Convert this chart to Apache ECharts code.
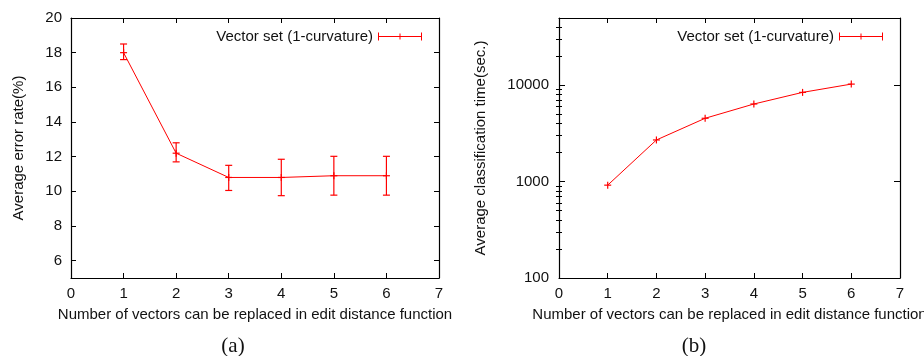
<!DOCTYPE html>
<html>
<head>
<meta charset="utf-8">
<script src="https://cdn.jsdelivr.net/npm/echarts@6/dist/echarts.min.js"></script>
<style>
  html, body {margin: 0; padding: 0; background: #fff;}
  #main {width: 924px; height: 356px;}
</style>
</head>
<body>
<div id="main"></div>
<script>
// chart data
const vectorCounts = [1, 2, 3, 4, 5, 6];
const errorRate = [18.0, 12.2, 10.8, 10.8, 10.9, 10.9];
const errorLow = [17.6, 11.7, 10.05, 9.75, 9.78, 9.78];
const errorHigh = [18.5, 12.8, 11.5, 11.85, 12.02, 12.02];
const classTime = [920, 2710, 4550, 6400, 8450, 10300];

const errorTicks = [6, 8, 10, 12, 14, 16, 18, 20];
const timeTicks = [100, 1000, 10000];
const timeMinorTicks = [200, 300, 400, 500, 600, 700, 800, 900,
  2000, 3000, 4000, 5000, 6000, 7000, 8000, 9000, 20000, 30000, 40000];

const seriesName = 'Vector set (1-curvature)';
const xName = 'Number of vectors can be replaced in edit distance function';
const RED = '#ff0000';
const FONT = '"Liberation Sans", Arial, sans-serif';
const FS = 15;

const chart = echarts.init(document.getElementById('main'));

const legendIcon = 'path://M0,0h1v8h-1z M43,0h1v8h-1z M21.5,1h1v6h-1z M0,3.5h44v1h-44z';

function crossAndBars(params, api) {
  const x = api.value(0);
  const c = api.coord([x, api.value(1)]);
  const s = 3.5;
  const st = {stroke: RED, lineWidth: 1.2};
  const kids = [
    {type: 'line', shape: {x1: c[0] - s, y1: c[1], x2: c[0] + s, y2: c[1]}, style: st},
    {type: 'line', shape: {x1: c[0], y1: c[1] - s, x2: c[0], y2: c[1] + s}, style: st}
  ];
  const lowV = api.value(2), highV = api.value(3);
  if (!isNaN(lowV) && !isNaN(highV)) {
    const lo = api.coord([x, lowV]);
    const hi = api.coord([x, highV]);
    kids.push(
      {type: 'line', shape: {x1: lo[0], y1: lo[1], x2: hi[0], y2: hi[1]}, style: st},
      {type: 'line', shape: {x1: lo[0] - s, y1: lo[1], x2: lo[0] + s, y2: lo[1]}, style: st},
      {type: 'line', shape: {x1: hi[0] - s, y1: hi[1], x2: hi[0] + s, y2: hi[1]}, style: st}
    );
  }
  return {type: 'group', children: kids};
}

const errData = vectorCounts.map((x, i) => [x, errorRate[i], errorLow[i], errorHigh[i]]);
const timeData = vectorCounts.map((x, i) => [x, classTime[i], NaN, NaN]);

const textStyle = {fontFamily: FONT, fontSize: FS, color: '#111'};
const axisLine = {show: true, onZero: false, lineStyle: {color: '#000', width: 1.2}};

function xAxes(gridIndex) {
  const base = {
    type: 'value', gridIndex, min: 0, max: 7, interval: 1,
    axisLine: axisLine,
    axisTick: {show: true, inside: true, length: 5, lineStyle: {color: '#000'}},
    splitLine: {show: false}
  };
  return [
    Object.assign({}, base, {
      position: 'bottom',
      name: xName, nameLocation: 'middle', nameGap: 29,
      nameTextStyle: textStyle,
      axisLabel: Object.assign({margin: 8}, textStyle)
    }),
    Object.assign({}, base, {position: 'top', axisLabel: {show: false}})
  ];
}

function logAxis(position, ticks, len, withLine) {
  return {
    type: 'log', logBase: 10, gridIndex: 1, position, min: 100, max: 50000,
    axisLine: withLine ? axisLine : {show: false},
    axisTick: {show: true, inside: true, length: len, customValues: ticks, lineStyle: {color: '#000'}},
    axisLabel: {show: false},
    splitLine: {show: false}
  };
}

const titleStyle = {fontFamily: '"Liberation Serif", serif', fontSize: 21, fontWeight: 'normal', color: '#111'};

const option = {
  animation: false,
  backgroundColor: '#fff',
  grid: [
    {left: 71, right: 485, top: 18, bottom: 78, outerBoundsMode: 'none'},
    {left: 559, right: 24, top: 18, bottom: 78, outerBoundsMode: 'none'}
  ],
  title: [
    {text: '(a)', left: 228, top: 331, textAlign: 'center', textStyle: titleStyle},
    {text: '(b)', left: 689, top: 331, textAlign: 'center', textStyle: titleStyle}
  ],
  legend: [
    {data: [{name: seriesName, icon: legendIcon}], right: 497, top: 24, align: 'right',
      itemWidth: 44, itemHeight: 8, itemGap: 10, textStyle: textStyle},
    {data: [{name: seriesName, icon: legendIcon}], right: 36, top: 24, align: 'right',
      itemWidth: 44, itemHeight: 8, itemGap: 10, textStyle: textStyle}
  ],
  xAxis: xAxes(0).concat(xAxes(1)),
  yAxis: [
    {
      type: 'value', gridIndex: 0, position: 'left', min: 5, max: 20,
      name: 'Average error rate(%)', nameLocation: 'middle', nameGap: 45,
      nameTextStyle: textStyle,
      axisLine: axisLine,
      axisTick: {show: true, inside: true, length: 5, customValues: errorTicks, lineStyle: {color: '#000'}},
      axisLabel: Object.assign({customValues: errorTicks, margin: 9}, textStyle),
      splitLine: {show: false}
    },
    {
      type: 'value', gridIndex: 0, position: 'right', min: 5, max: 20,
      axisLine: axisLine,
      axisTick: {show: true, inside: true, length: 5, customValues: errorTicks, lineStyle: {color: '#000'}},
      axisLabel: {show: false},
      splitLine: {show: false}
    },
    Object.assign(logAxis('left', timeTicks, 6, true), {
      name: 'Average classification time(sec.)', nameLocation: 'middle', nameGap: 71,
      nameTextStyle: textStyle,
      axisLabel: Object.assign({customValues: timeTicks, margin: 10, formatter: v => String(v)}, textStyle)
    }),
    logAxis('right', timeTicks, 6, true),
    logAxis('left', timeMinorTicks, 3, false),
    logAxis('right', timeMinorTicks, 3, false)
  ],
  series: [
    {
      name: seriesName, type: 'custom', xAxisIndex: 0, yAxisIndex: 0,
      itemStyle: {color: RED},
      renderItem: crossAndBars, data: errData, z: 3
    },
    {
      name: seriesName, type: 'line', xAxisIndex: 0, yAxisIndex: 0,
      symbol: 'none', lineStyle: {color: RED, width: 1}, itemStyle: {color: RED},
      data: vectorCounts.map((x, i) => [x, errorRate[i]]), z: 2
    },
    {
      name: seriesName, type: 'custom', xAxisIndex: 2, yAxisIndex: 2,
      itemStyle: {color: RED},
      renderItem: crossAndBars, data: timeData, z: 3
    },
    {
      name: seriesName, type: 'line', xAxisIndex: 2, yAxisIndex: 2,
      symbol: 'none', lineStyle: {color: RED, width: 1}, itemStyle: {color: RED},
      data: vectorCounts.map((x, i) => [x, classTime[i]]), z: 2
    }
  ]
};

chart.setOption(option);
</script>
</body>
</html>
